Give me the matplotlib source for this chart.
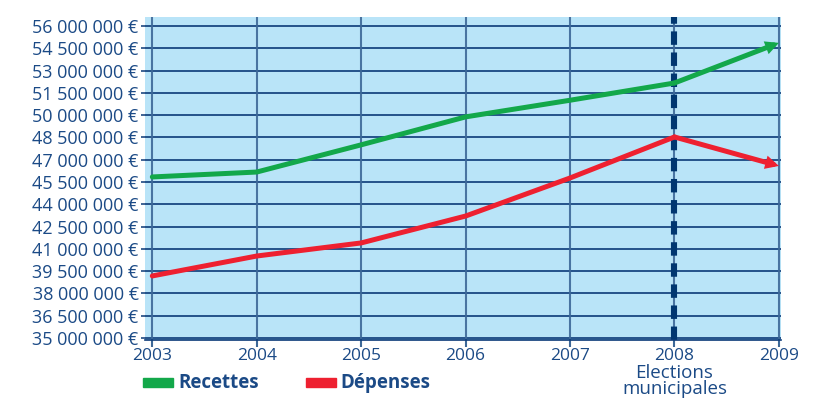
import matplotlib
matplotlib.use("Agg")
import matplotlib.pyplot as plt
from matplotlib.patches import Rectangle
from matplotlib.ticker import FuncFormatter
from matplotlib import transforms

years = [2003, 2004, 2005, 2006, 2007, 2008, 2009]
recettes = [45.84e6, 46.17e6, 48.0e6, 49.88e6, 51.0e6, 52.16e6, 54.86e6]
depenses = [39.18e6, 40.52e6, 41.40e6, 43.21e6, 45.77e6, 48.53e6, 46.58e6]
yticks = [35e6 + 1.5e6 * i for i in range(15)]
xlabels = ["2003", "2004", "2005", "2006", "2007", "2008", "2009"]
election_year = 2008
election_label = "Elections\nmunicipales"
legend_labels = ["Recettes", "Dépenses"]

GREEN = "#13A84A"
RED = "#EE2030"
BG = "#B9E4F8"
NAVY = "#0B3A78"
VGRID = "#3D6898"
TEXT = "#1B4A86"

plt.rcParams['font.family'] = ['Open Sans', 'DejaVu Sans']

fig = plt.figure(figsize=(8.19, 3.99), dpi=100)
ax = fig.add_axes([145 / 819, (399 - 340) / 399, (781 - 145) / 819, (340 - 17) / 399])
ax.set_facecolor(BG)

ax.set_xlim(2002.93, 2009.02)
ax.set_ylim(34.87e6, 56.6e6)

ax.set_yticks(yticks)
ax.yaxis.set_major_formatter(FuncFormatter(lambda v, p: f"{int(round(v)):,}".replace(",", " ") + " €"))
ax.set_xticks(years)
ax.set_xticklabels(xlabels)

for s in ["top", "right", "left"]:
    ax.spines[s].set_visible(False)
ax.spines["bottom"].set_color(NAVY)
ax.spines["bottom"].set_linewidth(1.2)

ax.tick_params(axis="y", length=3, width=1.1, color=NAVY, labelcolor=TEXT, labelsize=13, pad=1.5)
ax.tick_params(axis="x", length=5, width=1.5, color=VGRID, labelcolor=TEXT, labelsize=12.5, pad=1)

for yv in yticks:
    ax.axhline(yv, color=NAVY, lw=1.2, zorder=1)
for xv in years:
    ax.axvline(xv, color=VGRID, lw=1.5, alpha=0.9, zorder=1)

ax.axvline(election_year, color="#003670", lw=4.4, dashes=(2.2, 1.25), zorder=2, solid_capstyle="butt")

for vals, col in [(recettes, GREEN), (depenses, RED)]:
    ax.plot(years[:-1], vals[:-1], color=col, lw=3.6, zorder=3, solid_capstyle="round", solid_joinstyle="round")
    ax.annotate("", xy=(years[-1], vals[-1]), xytext=(years[-2], vals[-2]),
                arrowprops=dict(arrowstyle="-|>,head_length=0.4,head_width=0.2", color=col, lw=3.6,
                                shrinkA=0, shrinkB=0, joinstyle="miter"),
                zorder=3, annotation_clip=False)

# election label under the 2008 tick
blend = transforms.blended_transform_factory(ax.transData, fig.transFigure)
fig.text(election_year, (399 - 364) / 399, election_label, transform=blend, ha="center", va="top",
         color=TEXT, fontsize=13.5, linespacing=0.85)

# legend
for (x0, tx), col, lab in zip([(143, 178), (306, 340)], [GREEN, RED], legend_labels):
    fig.add_artist(Rectangle((x0 / 819, (399 - 386.5) / 399), 30 / 819, 9 / 399,
                             transform=fig.transFigure, color=col))
    fig.text(tx / 819, (399 - 383) / 399, lab, color=TEXT, fontsize=13.5, fontweight="bold", va="center", ha="left")

fig.savefig("out.png", dpi=100)
